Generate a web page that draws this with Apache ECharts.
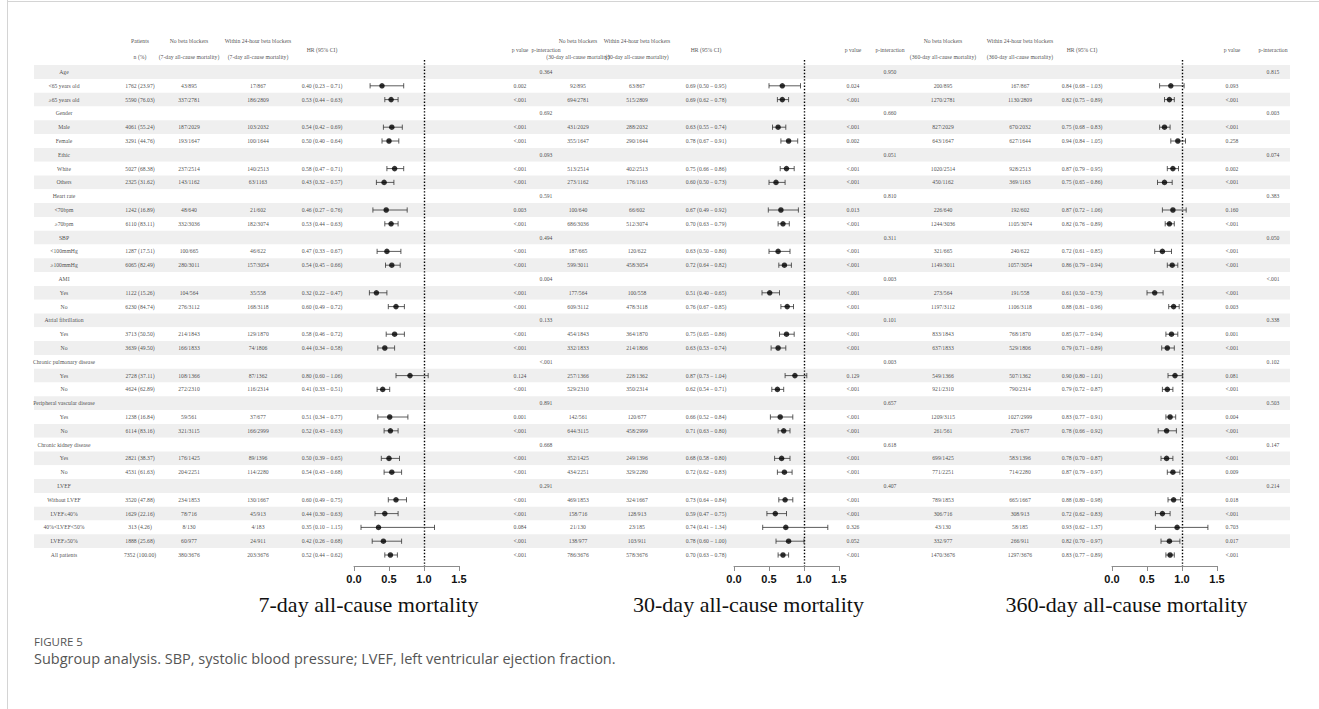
<!DOCTYPE html>
<html>
<head>
<meta charset="utf-8">
<title>Subgroup analysis</title>
<script src="https://cdn.jsdelivr.net/npm/echarts@6/dist/echarts.min.js"></script>
<style>
  html, body { margin: 0; padding: 0; background: #fff; }
  #chart { width: 1319px; height: 709px; }
</style>
</head>
<body>
<div id="chart"></div>
<script>
// ---- Rows of the subgroup table (top to bottom) ----
const rowLabels = [
  'Age', '<65 years old', '≥65 years old',
  'Gender', 'Male', 'Female',
  'Ethic', 'White', 'Others',
  'Heart rate', '<70bpm', '≥70bpm',
  'SBP', '<100mmHg', '≥100mmHg',
  'AMI', 'Yes', 'No',
  'Atrial fibrillation', 'Yes', 'No',
  'Chronic pulmonary disease', 'Yes', 'No',
  'Peripheral vascular disease', 'Yes', 'No',
  'Chronic kidney disease', 'Yes', 'No',
  'LVEF', 'Without LVEF', 'LVEF≤40%', '40%<LVEF<50%', 'LVEF≥50%',
  'All patients'
];

const patients = [
  '', '1762 (23.97)', '5590 (76.03)',
  '', '4061 (55.24)', '3291 (44.76)',
  '', '5027 (68.38)', '2325 (31.62)',
  '', '1242 (16.89)', '6110 (83.11)',
  '', '1287 (17.51)', '6065 (82.49)',
  '', '1122 (15.26)', '6230 (84.74)',
  '', '3713 (50.50)', '3639 (49.50)',
  '', '2728 (37.11)', '4624 (62.89)',
  '', '1238 (16.84)', '6114 (83.16)',
  '', '2821 (38.37)', '4531 (61.63)',
  '', '3520 (47.88)', '1629 (22.16)', '313 (4.26)', '1888 (25.68)',
  '7352 (100.00)'
];

// ---- 7-day all-cause mortality ----
const noBB7 = ['', '43/895', '337/2781', '', '187/2029', '193/1647', '', '237/2514', '143/1162',
  '', '48/640', '332/3036', '', '100/665', '280/3011', '', '104/564', '276/3112',
  '', '214/1843', '166/1833', '', '108/1366', '272/2310', '', '59/561', '321/3115',
  '', '176/1425', '204/2251', '', '234/1853', '78/716', '8/130', '60/977', '380/3676'];
const withBB7 = ['', '17/867', '186/2809', '', '103/2032', '100/1644', '', '140/2513', '63/1163',
  '', '21/602', '182/3074', '', '46/622', '157/3054', '', '35/558', '168/3118',
  '', '129/1870', '74/1806', '', '87/1362', '116/2314', '', '37/677', '166/2999',
  '', '89/1396', '114/2280', '', '130/1667', '45/913', '4/183', '24/911', '203/3676'];
const hr7 = [null, [0.40, 0.23, 0.71], [0.53, 0.44, 0.63], null, [0.54, 0.42, 0.69], [0.50, 0.40, 0.64],
  null, [0.58, 0.47, 0.71], [0.43, 0.32, 0.57], null, [0.46, 0.27, 0.76], [0.53, 0.44, 0.63],
  null, [0.47, 0.33, 0.67], [0.54, 0.45, 0.66], null, [0.32, 0.22, 0.47], [0.60, 0.49, 0.72],
  null, [0.58, 0.46, 0.72], [0.44, 0.34, 0.58], null, [0.80, 0.60, 1.06], [0.41, 0.33, 0.51],
  null, [0.51, 0.34, 0.77], [0.52, 0.43, 0.63], null, [0.50, 0.39, 0.65], [0.54, 0.43, 0.68],
  null, [0.60, 0.49, 0.75], [0.44, 0.30, 0.63], [0.35, 0.10, 1.15], [0.42, 0.26, 0.68], [0.52, 0.44, 0.62]];
const pVal7 = ['', '0.002', '<.001', '', '<.001', '<.001', '', '<.001', '<.001',
  '', '0.003', '<.001', '', '<.001', '<.001', '', '<.001', '<.001',
  '', '<.001', '<.001', '', '0.124', '<.001', '', '0.001', '<.001',
  '', '<.001', '<.001', '', '<.001', '<.001', '0.084', '<.001', '<.001'];
const pInt7 = ['0.364', '', '', '0.692', '', '', '0.093', '', '', '0.591', '', '', '0.494', '', '',
  '0.004', '', '', '0.133', '', '', '<.001', '', '', '0.891', '', '', '0.668', '', '', '0.291',
  '', '', '', '', ''];

// ---- 30-day all-cause mortality ----
const noBB30 = ['', '92/895', '694/2781', '', '431/2029', '355/1647', '', '513/2514', '273/1162',
  '', '100/640', '686/3036', '', '187/665', '599/3011', '', '177/564', '609/3112',
  '', '454/1843', '332/1833', '', '257/1366', '529/2310', '', '142/561', '644/3115',
  '', '352/1425', '434/2251', '', '469/1853', '158/716', '21/130', '138/977', '786/3676'];
const withBB30 = ['', '63/867', '515/2809', '', '288/2032', '290/1644', '', '402/2513', '176/1163',
  '', '66/602', '512/3074', '', '120/622', '458/3054', '', '100/558', '478/3118',
  '', '364/1870', '214/1806', '', '228/1362', '350/2314', '', '120/677', '458/2999',
  '', '249/1396', '329/2280', '', '324/1667', '128/913', '23/185', '103/911', '578/3676'];
const hr30 = [null, [0.69, 0.50, 0.95], [0.69, 0.62, 0.78], null, [0.63, 0.55, 0.74], [0.78, 0.67, 0.91],
  null, [0.75, 0.66, 0.86], [0.60, 0.50, 0.73], null, [0.67, 0.49, 0.92], [0.70, 0.63, 0.79],
  null, [0.63, 0.50, 0.80], [0.72, 0.64, 0.82], null, [0.51, 0.40, 0.65], [0.76, 0.67, 0.85],
  null, [0.75, 0.65, 0.86], [0.63, 0.53, 0.74], null, [0.87, 0.73, 1.04], [0.62, 0.54, 0.71],
  null, [0.66, 0.52, 0.84], [0.71, 0.63, 0.80], null, [0.68, 0.58, 0.80], [0.72, 0.62, 0.83],
  null, [0.73, 0.64, 0.84], [0.59, 0.47, 0.75], [0.74, 0.41, 1.34], [0.78, 0.60, 1.00], [0.70, 0.63, 0.78]];
const pVal30 = ['', '0.024', '<.001', '', '<.001', '0.002', '', '<.001', '<.001',
  '', '0.013', '<.001', '', '<.001', '<.001', '', '<.001', '<.001',
  '', '<.001', '<.001', '', '0.129', '<.001', '', '<.001', '<.001',
  '', '<.001', '<.001', '', '<.001', '<.001', '0.326', '0.052', '<.001'];
const pInt30 = ['0.950', '', '', '0.660', '', '', '0.051', '', '', '0.810', '', '', '0.311', '', '',
  '0.003', '', '', '0.101', '', '', '0.003', '', '', '0.657', '', '', '0.618', '', '', '0.407',
  '', '', '', '', ''];

// ---- 360-day all-cause mortality ----
const noBB360 = ['', '200/895', '1270/2781', '', '827/2029', '643/1647', '', '1020/2514', '450/1162',
  '', '226/640', '1244/3036', '', '321/665', '1149/3011', '', '273/564', '1197/3112',
  '', '833/1843', '637/1833', '', '549/1366', '921/2310', '', '1209/3115', '261/561',
  '', '699/1425', '771/2251', '', '789/1853', '306/716', '43/130', '332/977', '1470/3676'];
const withBB360 = ['', '167/867', '1130/2809', '', '670/2032', '627/1644', '', '928/2513', '369/1163',
  '', '192/602', '1105/3074', '', '240/622', '1057/3054', '', '191/558', '1106/3118',
  '', '768/1870', '529/1806', '', '507/1362', '790/2314', '', '1027/2999', '270/677',
  '', '583/1396', '714/2280', '', '665/1667', '308/913', '58/185', '266/911', '1297/3676'];
const hr360 = [null, [0.84, 0.68, 1.03], [0.82, 0.75, 0.89], null, [0.75, 0.68, 0.83], [0.94, 0.84, 1.05],
  null, [0.87, 0.79, 0.95], [0.75, 0.65, 0.86], null, [0.87, 0.72, 1.06], [0.82, 0.76, 0.89],
  null, [0.72, 0.61, 0.85], [0.86, 0.79, 0.94], null, [0.61, 0.50, 0.73], [0.88, 0.81, 0.96],
  null, [0.85, 0.77, 0.94], [0.79, 0.71, 0.89], null, [0.90, 0.80, 1.01], [0.79, 0.72, 0.87],
  null, [0.83, 0.77, 0.91], [0.78, 0.66, 0.92], null, [0.78, 0.70, 0.87], [0.87, 0.79, 0.97],
  null, [0.88, 0.80, 0.98], [0.72, 0.62, 0.83], [0.93, 0.62, 1.37], [0.82, 0.70, 0.97], [0.83, 0.77, 0.89]];
const pVal360 = ['', '0.093', '<.001', '', '<.001', '0.258', '', '0.002', '<.001',
  '', '0.160', '<.001', '', '<.001', '<.001', '', '<.001', '0.003',
  '', '0.001', '<.001', '', '0.081', '<.001', '', '0.004', '<.001',
  '', '<.001', '0.009', '', '0.018', '<.001', '0.703', '0.017', '<.001'];
const pInt360 = ['0.815', '', '', '0.003', '', '', '0.074', '', '', '0.383', '', '', '0.050', '', '',
  '<.001', '', '', '0.338', '', '', '0.102', '', '', '0.503', '', '', '0.147', '', '', '0.214',
  '', '', '', '', ''];

const axisTicks = [0.0, 0.5, 1.0, 1.5];
const panelTitles = ['7-day all-cause mortality', '30-day all-cause mortality', '360-day all-cause mortality'];
const captionLabel = 'FIGURE 5';
const captionText = 'Subgroup analysis. SBP, systolic blood pressure; LVEF, left ventricular ejection fraction.';

// ---- Layout ----
const ROWS = rowLabels.length;
const ROW_H = 13.8;
const TABLE_TOP = 65.1;
const TABLE_LEFT = 34, TABLE_RIGHT = 1290;
const FOREST_TOP = 60, AXIS_Y = 566;
const UNIT = 70;                          // px per HR unit
const forestLeft = [354, 734, 1112];
const col = {
  label: 64, pat: 140,
  nb: [189, 578, 943], bb: [258, 637, 1020], hr: [322, 706, 1082],
  p: [520, 853, 1232], pi: [546, 890, 1273]
};
const HEAD1 = -2.25, HEAD2 = -1.09, HEADMID = -1.6;   // header rows in row units

const SERIF = '"Liberation Serif", "Times New Roman", serif';
const TXT = { fontFamily: SERIF, fontSize: 5.7, color: '#1a1a1a' };

const fmtHR = d => d ? `${d[0].toFixed(2)} (${d[1].toFixed(2)} – ${d[2].toFixed(2)})` : '';

// text column drawn as invisible scatter points with labels on the table grid
function textColumn(x, texts, rowOffset) {
  const data = [];
  texts.forEach((t, i) => { if (t) data.push([x, rowOffset === undefined ? i : rowOffset, t]); });
  return {
    type: 'scatter', xAxisIndex: 0, yAxisIndex: 0, symbolSize: 1, clip: false, silent: true,
    itemStyle: { color: 'rgba(0,0,0,0)' }, z: 5,
    data,
    label: { show: true, position: 'inside', formatter: p => p.value[2], ...TXT }
  };
}
function headerText(x, rowPos, text) {
  return textColumn(x, [text], rowPos);
}

const groups = [
  { nb: noBB7, bb: withBB7, hr: hr7, p: pVal7, pi: pInt7 },
  { nb: noBB30, bb: withBB30, hr: hr30, p: pVal30, pi: pInt30 },
  { nb: noBB360, bb: withBB360, hr: hr360, p: pVal360, pi: pInt360 }
];
const periodTag = ['7-day', '30-day', '360-day'];

const grids = [{ left: TABLE_LEFT, width: TABLE_RIGHT - TABLE_LEFT, top: TABLE_TOP, height: ROWS * ROW_H }];
const xAxes = [{ type: 'value', gridIndex: 0, min: TABLE_LEFT, max: TABLE_RIGHT, show: false }];
const yAxes = [{
  type: 'value', gridIndex: 0, min: -0.5, max: ROWS - 0.5, interval: 1, inverse: true,
  axisLine: { show: false }, axisTick: { show: false }, axisLabel: { show: false },
  splitLine: { show: false },
  splitArea: { show: true, areaStyle: { color: ['#efefef', '#ffffff'] } }
}];

const series = [];
series.push(textColumn(col.label, rowLabels));
series.push(textColumn(col.pat, patients));
series.push(headerText(col.pat, HEAD1, 'Patients'));
series.push(headerText(col.pat, HEAD2, 'n (%)'));

const yMinF = -0.5 - (TABLE_TOP - FOREST_TOP) / ROW_H;
const yMaxF = ROWS - 0.5 + (AXIS_Y - (TABLE_TOP + ROWS * ROW_H)) / ROW_H;

groups.forEach((g, k) => {
  series.push(textColumn(col.nb[k], g.nb));
  series.push(textColumn(col.bb[k], g.bb));
  series.push(textColumn(col.hr[k], g.hr.map(fmtHR)));
  series.push(textColumn(col.p[k], g.p));
  series.push(textColumn(col.pi[k], g.pi));
  series.push(headerText(col.nb[k], HEAD1, 'No beta blockers'));
  series.push(headerText(col.nb[k], HEAD2, `(${periodTag[k]} all-cause mortality)`));
  series.push(headerText(col.bb[k], HEAD1, 'Within 24-hour beta blockers'));
  series.push(headerText(col.bb[k], HEAD2, `(${periodTag[k]} all-cause mortality)`));
  series.push(headerText(col.hr[k], HEADMID, 'HR (95% CI)'));
  series.push(headerText(col.p[k], HEADMID, 'p value'));
  series.push(headerText(col.pi[k], HEADMID, 'p-interaction'));

  // forest panel
  const gi = k + 1;
  grids.push({ left: forestLeft[k], width: 1.5 * UNIT, top: FOREST_TOP, height: AXIS_Y - FOREST_TOP });
  xAxes.push({
    type: 'value', gridIndex: gi, min: axisTicks[0], max: axisTicks[axisTicks.length - 1], interval: 0.5,
    axisLine: { show: true, onZero: false, lineStyle: { color: '#8c8c8c', width: 1 } },
    axisTick: { show: true, length: 5, lineStyle: { color: '#8c8c8c', width: 1 } },
    splitLine: { show: false },
    axisLabel: {
      margin: 7, color: '#111', fontWeight: 'bold', fontSize: 11,
      fontFamily: '"Liberation Sans", Arial, sans-serif', formatter: v => v.toFixed(1)
    }
  });
  yAxes.push({ type: 'value', gridIndex: gi, min: yMinF, max: yMaxF, inverse: true, show: false });

  const ci = [], pts = [];
  g.hr.forEach((d, i) => { if (d) { ci.push([d[1], d[2], i]); pts.push([d[0], i]); } });
  series.push({
    type: 'custom', xAxisIndex: gi, yAxisIndex: gi, silent: true, z: 6, clip: false,
    data: ci,
    renderItem: (params, api) => {
      const a = api.coord([api.value(0), api.value(2)]);
      const b = api.coord([api.value(1), api.value(2)]);
      const cap = 2.6;
      const st = { stroke: '#333', lineWidth: 0.8 };
      return {
        type: 'group', children: [
          { type: 'line', shape: { x1: a[0], y1: a[1], x2: b[0], y2: b[1] }, style: st },
          { type: 'line', shape: { x1: a[0], y1: a[1] - cap, x2: a[0], y2: a[1] + cap }, style: st },
          { type: 'line', shape: { x1: b[0], y1: b[1] - cap, x2: b[0], y2: b[1] + cap }, style: st }
        ]
      };
    }
  });
  series.push({
    type: 'scatter', xAxisIndex: gi, yAxisIndex: gi, symbol: 'circle', symbolSize: 5.5, z: 7,
    itemStyle: { color: '#000' }, silent: true, data: pts,
    markLine: {
      silent: true, symbol: ['none', 'none'], label: { show: false },
      lineStyle: { type: [1.4, 1.8], color: '#000', width: 1.4 },
      data: [{ xAxis: 1 }]
    }
  });
});

const graphics = [
  { type: 'line', shape: { x1: 7.5, y1: 0, x2: 7.5, y2: 709 }, style: { stroke: '#d4d4d4', lineWidth: 1 } },
  { type: 'line', shape: { x1: 7, y1: 1.5, x2: 1319, y2: 1.5 }, style: { stroke: '#d4d4d4', lineWidth: 1 } },
  { type: 'text', x: 34, y: 641, style: { text: captionLabel, font: '500 11.5px "Open Sans", "Noto Sans", sans-serif', fill: '#555', textVerticalAlign: 'middle' } },
  { type: 'text', x: 34, y: 658, style: { text: captionText, font: '14.5px "Open Sans", "Noto Sans", sans-serif', fill: '#555', textVerticalAlign: 'middle' } }
];
const titleCenters = forestLeft.map(l => l + 0.75 * UNIT - 38);
panelTitles.forEach((t, k) => {
  graphics.push({
    type: 'text', x: titleCenters[k], y: 604,
    style: { text: t, font: '22px ' + SERIF, fill: '#111', textAlign: 'center', textVerticalAlign: 'middle' }
  });
});

const chart = echarts.init(document.getElementById('chart'), null, { renderer: 'svg' });
chart.setOption({
  animation: false,
  backgroundColor: '#fff',
  grid: grids,
  xAxis: xAxes,
  yAxis: yAxes,
  series,
  graphic: graphics
});
</script>
</body>
</html>
